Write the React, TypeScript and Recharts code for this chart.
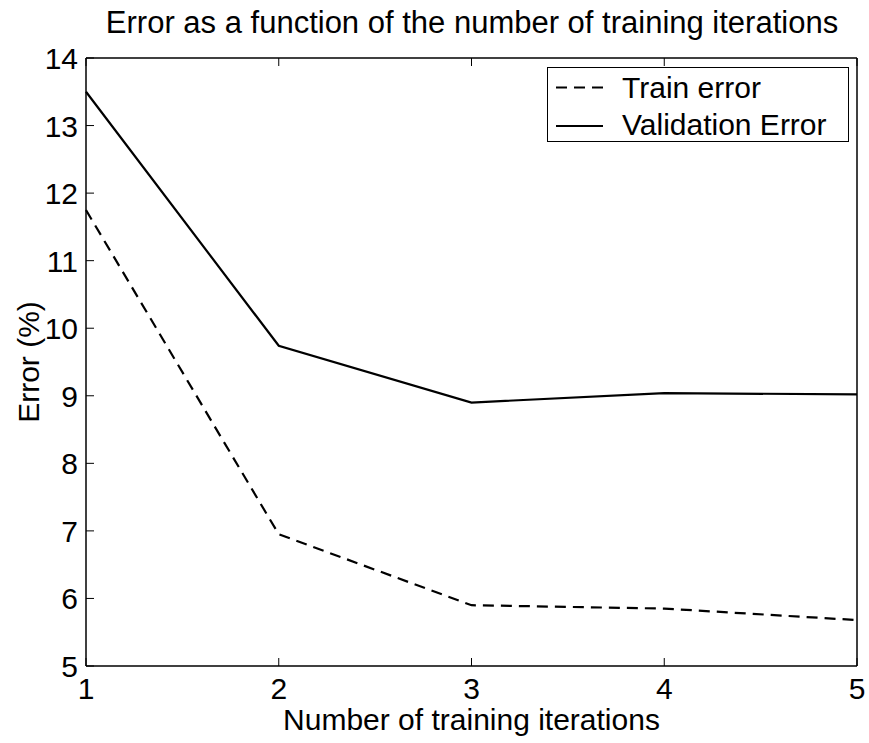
import { LineChart, Line, XAxis, YAxis, Legend, Label } from "recharts";

const iterations = [1, 2, 3, 4, 5];
const trainError = [11.75, 6.95, 5.9, 5.85, 5.68];
const validationError = [13.5, 9.74, 8.9, 9.04, 9.02];
const yTicks = [5, 6, 7, 8, 9, 10, 11, 12, 13, 14];
const xTicks = [1, 2, 3, 4, 5];

const data = iterations.map((it, i) => ({
  it,
  train: trainError[i],
  validation: validationError[i],
}));

const FONT = '"Liberation Sans", Arial, sans-serif';
const TICK = 8;

// inward ticks like the original plot
const LeftTick = (props: any) => {
  const { x, y, payload } = props;
  return (
    <g>
      <line x1={x} x2={x + TICK} y1={y} y2={y} stroke="#000" strokeWidth={1} />
      <text x={x - 8} y={y + 11} textAnchor="end" fontSize={30} fontFamily={FONT} fill="#000">
        {payload.value}
      </text>
    </g>
  );
};

const RightTick = (props: any) => {
  const { x, y } = props;
  return <line x1={x} x2={x - TICK} y1={y} y2={y} stroke="#000" strokeWidth={1} />;
};

const BottomTick = (props: any) => {
  const { x, y, payload } = props;
  return (
    <g>
      <line x1={x} x2={x} y1={y} y2={y - TICK} stroke="#000" strokeWidth={1} />
      <text x={x} y={y + 33} textAnchor="middle" fontSize={30} fontFamily={FONT} fill="#000">
        {payload.value}
      </text>
    </g>
  );
};

const TopTick = (props: any) => {
  const { x, y } = props;
  return <line x1={x} x2={x} y1={y} y2={y + TICK} stroke="#000" strokeWidth={1} />;
};

const LegendBox = () => (
  <div
    style={{
      width: 302,
      height: 75,
      boxSizing: "border-box",
      border: "1.5px solid #000",
      background: "#fff",
    }}
  >
    <svg width={299} height={72} style={{ display: "block" }}>
      <line x1={8} x2={55} y1={19.5} y2={19.5} stroke="#000" strokeWidth={2} strokeDasharray="11 7" />
      <text x={74} y={30} fontSize={30} fontFamily={FONT} fill="#000">
        Train error
      </text>
      <line x1={8} x2={55} y1={58} y2={58} stroke="#000" strokeWidth={2} />
      <text x={74} y={67} fontSize={30} fontFamily={FONT} fill="#000">
        Validation Error
      </text>
    </svg>
  </div>
);

export default function App() {
  return (
    <div style={{ position: "absolute", left: 0, top: 0, background: "#fff" }}>
      <LineChart
        width={869}
        height={743}
        data={data}
        margin={{ top: 57, right: 11, bottom: 76, left: 85 }}
      >
        <XAxis
          xAxisId="bottom"
          dataKey="it"
          type="number"
          domain={[1, 5]}
          ticks={xTicks}
          height={1}
          tickSize={0}
          tickMargin={0}
          tick={BottomTick}
          axisLine={{ stroke: "#000", strokeWidth: 1.5 }}
          interval={0}
        >
          <Label
            content={() => (
              <text x={471.5} y={730} textAnchor="middle" fontSize={30} fontFamily={FONT} fill="#000">
                Number of training iterations
              </text>
            )}
          />
        </XAxis>
        <XAxis
          xAxisId="top"
          orientation="top"
          dataKey="it"
          type="number"
          domain={[1, 5]}
          ticks={xTicks}
          height={1}
          tickSize={0}
          tickMargin={0}
          tick={TopTick}
          axisLine={{ stroke: "#000", strokeWidth: 1.5 }}
          interval={0}
        >
          <Label
            content={() => (
              <text x={472} y={33} textAnchor="middle" fontSize={31} fontFamily={FONT} fill="#000">
                Error as a function of the number of training iterations
              </text>
            )}
          />
        </XAxis>
        <YAxis
          yAxisId="left"
          type="number"
          domain={[5, 14]}
          ticks={yTicks}
          width={1}
          tickSize={0}
          tickMargin={0}
          tick={LeftTick}
          axisLine={{ stroke: "#000", strokeWidth: 1.5 }}
          interval={0}
        >
          <Label
            content={() => (
              <text
                x={39}
                y={362}
                transform="rotate(-90 39 362)"
                textAnchor="middle"
                fontSize={30}
                fontFamily={FONT}
                fill="#000"
              >
                Error (%)
              </text>
            )}
          />
        </YAxis>
        <YAxis
          yAxisId="right"
          orientation="right"
          type="number"
          domain={[5, 14]}
          ticks={yTicks}
          width={1}
          tickSize={0}
          tickMargin={0}
          tick={RightTick}
          axisLine={{ stroke: "#000", strokeWidth: 1.5 }}
          interval={0}
        />
        <Legend
          layout="horizontal"
          verticalAlign="middle"
          align="center"
          content={LegendBox}
          wrapperStyle={{ left: 547, top: 67, width: 302, height: 75 }}
        />
        <Line
          xAxisId="bottom"
          yAxisId="left"
          type="linear"
          dataKey="train"
          name="Train error"
          stroke="#000"
          strokeWidth={2.2}
          strokeDasharray="11 7"
          dot={false}
          isAnimationActive={false}
        />
        <Line
          xAxisId="bottom"
          yAxisId="left"
          type="linear"
          dataKey="validation"
          name="Validation Error"
          stroke="#000"
          strokeWidth={2.2}
          dot={false}
          isAnimationActive={false}
        />
      </LineChart>
    </div>
  );
}
